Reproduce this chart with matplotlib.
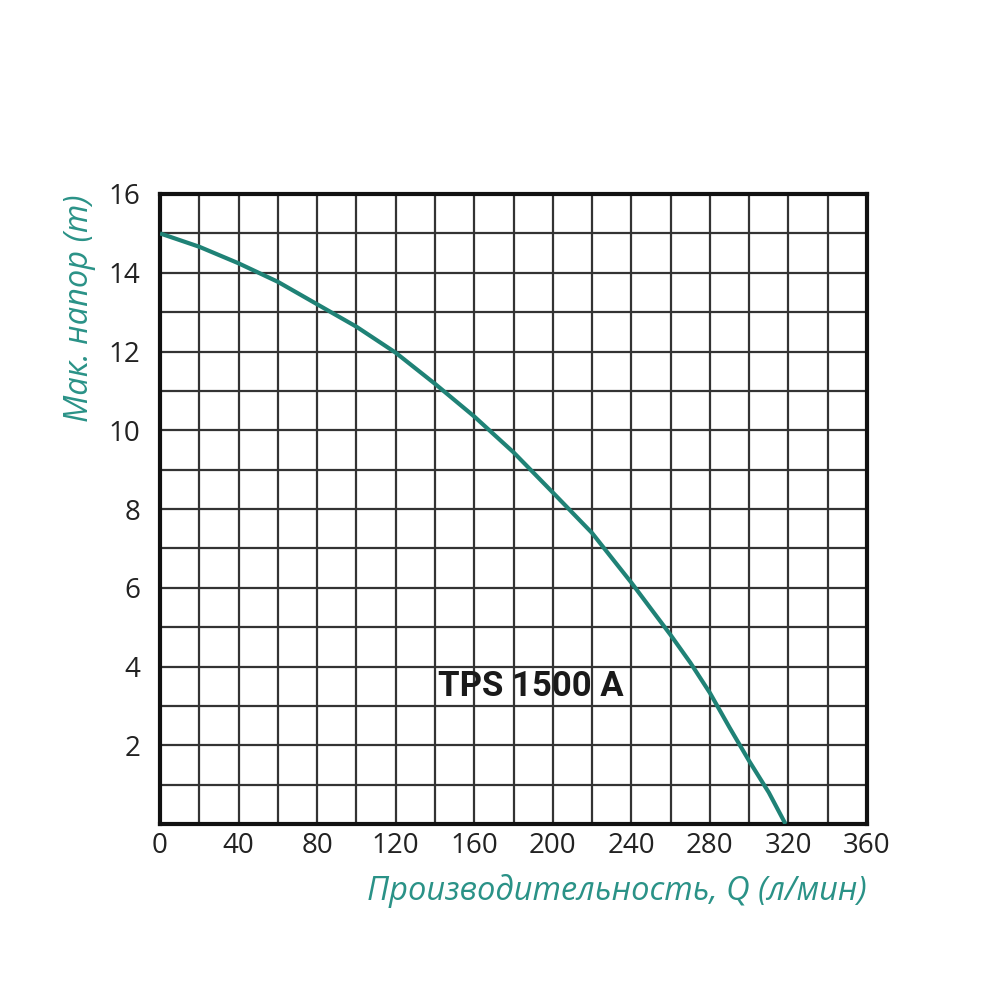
import numpy as np
import matplotlib.pyplot as plt

# данные кривой (Q, л/мин -> напор, м)
q_values = [0, 20, 40, 60, 80, 100, 120, 140, 160, 180, 200, 220, 240, 260, 270, 280, 290, 300, 310, 318.5]
h_values = [15.0, 14.66, 14.24, 13.77, 13.2, 12.63, 11.97, 11.18, 10.35, 9.44, 8.42, 7.39, 6.13, 4.8,
            4.1, 3.33, 2.45, 1.6, 0.8, 0.0]

x_ticks = [0, 40, 80, 120, 160, 200, 240, 280, 320, 360]
y_ticks = [2, 4, 6, 8, 10, 12, 14, 16]

teal = '#1f8276'
label_teal = '#2a9287'

plt.rcParams['font.family'] = ['Open Sans', 'DejaVu Sans']

fig = plt.figure(figsize=(10, 10), dpi=100)
ax = fig.add_axes([0.16, 0.176, 0.707, 0.63])

ax.set_xlim(0, 360)
ax.set_ylim(0, 16)

# сетка
for gx in range(20, 360, 20):
    ax.axvline(gx, color='#333333', lw=1.6, zorder=1)
for gy in range(1, 16):
    ax.axhline(gy, color='#333333', lw=1.6, zorder=1)

ax.plot(q_values, h_values, color=teal, lw=3.0, zorder=3, solid_capstyle='butt')

ax.set_xticks(x_ticks)
ax.set_yticks(y_ticks)
ax.tick_params(length=0, labelsize=20, colors='#222222')
ax.tick_params(axis='x', pad=6)
ax.tick_params(axis='y', pad=14)
for s in ax.spines.values():
    s.set_linewidth(3)
    s.set_color('#111111')

ax.set_xlabel('Производительность, Q (л/мин)', fontsize=23.5, style='italic',
              color=label_teal, loc='right', labelpad=10)
ax.set_ylabel('Мак. напор (m)', fontsize=23.5, style='italic',
              color=label_teal, loc='top', labelpad=9)

ax.text(189, 3.5, 'TPS 1500 A', fontsize=25, fontweight='bold',
        family=['Roboto', 'DejaVu Sans'], color='#1a1a1a', ha='center', va='center', zorder=4)

fig.savefig('out.png', dpi=100, facecolor='white')
